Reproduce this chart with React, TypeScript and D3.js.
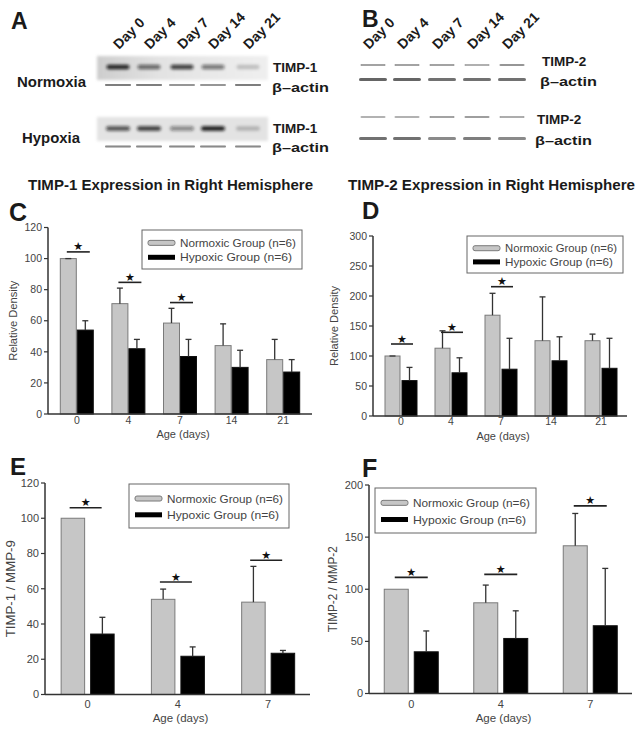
import React from "react";
import * as d3 from "d3";

// ---------- data ----------
const days5 = ["0", "4", "7", "14", "21"];
const days3 = ["0", "4", "7"];
const blotDays = ["Day 0", "Day 4", "Day 7", "Day 14", "Day 21"];

// Panel C: TIMP-1 expression
const timp1Norm = [100, 71, 58.5, 44, 35];
const timp1NormErr = [0, 10, 9.5, 14, 13];
const timp1Hyp = [54, 42, 37, 30, 27];
const timp1HypErr = [6, 6, 11, 11, 8];
const timp1Sig = [104.3, 84.7, 71.7];

// Panel D: TIMP-2 expression
const timp2Norm = [100, 113, 168, 125.5, 125.5];
const timp2NormErr = [0, 29, 36.5, 73, 11];
const timp2Hyp = [59, 72, 78, 92, 79.5];
const timp2HypErr = [22, 25, 51.5, 40, 50];
const timp2Sig = [120, 139.5, 215.5];

// Panel E: TIMP-1 / MMP-9
const ratio1Norm = [100, 54, 52.4];
const ratio1NormErr = [null, 5.8, 20.3];
const ratio1Hyp = [34.3, 21.7, 23.4];
const ratio1HypErr = [9.5, 5.3, 1.6];
const ratio1Sig = [106, 63.8, 76.2];

// Panel F: TIMP-2 / MMP-2
const ratio2Norm = [100, 87, 141.7];
const ratio2NormErr = [null, 17, 31];
const ratio2Hyp = [40, 52.8, 65];
const ratio2HypErr = [20, 26.5, 55];
const ratio2Sig = [111.4, 114.3, 180];

const ticksC = [0, 20, 40, 60, 80, 100, 120];
const ticksD = [0, 50, 100, 150, 200, 250, 300];
const ticksE = [0, 20, 40, 60, 80, 100, 120];
const ticksF = [0, 50, 100, 150, 200];

// Blot band intensities (0..1)
const timp1NormBands = [0.9, 0.6, 0.8, 0.55, 0.2];
const actinANorm = [0.55, 0.55, 0.45, 0.45, 0.55];
const timp1HypBands = [0.7, 0.8, 0.45, 0.95, 0.22];
const actinAHyp = [0.5, 0.5, 0.5, 0.5, 0.5];
const timp2NormBands = [0.4, 0.4, 0.4, 0.35, 0.45];
const actinBNorm = [0.65, 0.65, 0.6, 0.6, 0.6];
const timp2HypBands = [0.3, 0.3, 0.4, 0.38, 0.36];
const actinBHyp = [0.6, 0.6, 0.5, 0.55, 0.5];

const FONT = "'Liberation Sans', Arial, Helvetica, sans-serif";
const GRAY = "#c6c6c6";
const GRAY_STROKE = "#7a7a7a";
const AXIS = "#333";
const TXT = "#444";

type PanelProps = {
  cats: string[];
  norm: number[];
  normErr: (number | null)[];
  hyp: number[];
  hypErr: (number | null)[];
  sig: number[];
  yMax: number;
  ticks: number[];
  xRange: [number, number];
  axisX: [number, number];
  yRange: [number, number];
  barW: number;
  gap: number;
  legend: { x: number; y: number; w: number; h: number };
  yLabel: string;
  yLabelX: number;
  yLabelLen: number;
  yLabelSize: number;
  tickSize: number;
  xTickY: number;
  xTitleY: number;
  sigW: number;
  sigDx: number;
};

function BarPanel(p: PanelProps) {
  const x = d3.scaleBand().domain(p.cats).range(p.xRange).paddingInner(0).paddingOuter(0);
  const y = d3.scaleLinear().domain([0, p.yMax]).range(p.yRange);
  const cx = (c: string) => (x(c) as number) + x.bandwidth() / 2;
  const y0 = y(0);
  const ax0 = p.axisX[0];
  const capW = 3;
  const xTitleX = (p.axisX[0] + p.axisX[1]) / 2 + 3;
  const bars: any[] = [];
  p.cats.forEach((c, i) => {
    const c0 = cx(c);
    const nx = c0 - p.gap / 2 - p.barW;
    const hx = c0 + p.gap / 2;
    bars.push(
      <g key={"b" + c}>
        <rect x={nx} y={y(p.norm[i])} width={p.barW} height={y0 - y(p.norm[i])} fill={GRAY} stroke={GRAY_STROKE} strokeWidth={1} />
        <rect x={hx} y={y(p.hyp[i])} width={p.barW} height={y0 - y(p.hyp[i])} fill="#000" stroke="#111" strokeWidth={1} />
        {p.normErr[i] !== null && (
          <g stroke="#333" strokeWidth={1.3}>
            <line x1={nx + p.barW / 2} x2={nx + p.barW / 2} y1={y(p.norm[i])} y2={y(p.norm[i] + (p.normErr[i] as number))} />
            <line x1={nx + p.barW / 2 - capW} x2={nx + p.barW / 2 + capW} y1={y(p.norm[i] + (p.normErr[i] as number))} y2={y(p.norm[i] + (p.normErr[i] as number))} />
          </g>
        )}
        {p.hypErr[i] !== null && (
          <g stroke="#333" strokeWidth={1.3}>
            <line x1={hx + p.barW / 2} x2={hx + p.barW / 2} y1={y(p.hyp[i])} y2={y(p.hyp[i] + (p.hypErr[i] as number))} />
            <line x1={hx + p.barW / 2 - capW} x2={hx + p.barW / 2 + capW} y1={y(p.hyp[i] + (p.hypErr[i] as number))} y2={y(p.hyp[i] + (p.hypErr[i] as number))} />
          </g>
        )}
      </g>
    );
  });
  const sigs = p.sig.map((v, i) => {
    const c0 = cx(p.cats[i]) + p.sigDx;
    return (
      <g key={"s" + i}>
        <line x1={c0 - p.sigW / 2} x2={c0 + p.sigW / 2} y1={y(v)} y2={y(v)} stroke="#222" strokeWidth={1.6} />
        <text x={c0} y={y(v) - 1.5} textAnchor="middle" fontSize={11} fontFamily="'DejaVu Sans', sans-serif" fill="#111">★</text>
      </g>
    );
  });
  const L = p.legend;
  return (
    <g fontFamily={FONT}>
      {bars}
      {sigs}
      {/* axes */}
      <line x1={ax0} x2={ax0} y1={y(p.yMax)} y2={y0} stroke={AXIS} strokeWidth={1.5} />
      <line x1={ax0} x2={p.axisX[1]} y1={y0} y2={y0} stroke={AXIS} strokeWidth={1.5} />
      {p.ticks.map((t) => (
        <g key={"t" + t}>
          <line x1={ax0 - 4} x2={ax0} y1={y(t)} y2={y(t)} stroke={AXIS} strokeWidth={1.2} />
          <text x={ax0 - 6} y={y(t)} dy="0.35em" textAnchor="end" fontSize={p.tickSize} fill={TXT}>{t}</text>
        </g>
      ))}
      {p.cats.map((c) => (
        <text key={"x" + c} x={cx(c)} y={p.xTickY} textAnchor="middle" fontSize={p.tickSize} fill={TXT}>{c}</text>
      ))}
      <text x={xTitleX} y={p.xTitleY} textAnchor="middle" fontSize={p.tickSize + 0.5} fill={TXT}>Age (days)</text>
      <text
        transform={`translate(${p.yLabelX},${(p.yRange[0] + p.yRange[1]) / 2}) rotate(-90)`}
        textAnchor="middle"
        fontSize={p.yLabelSize}
        fill={TXT}
        textLength={p.yLabelLen}
        lengthAdjust="spacingAndGlyphs"
      >{p.yLabel}</text>
      {/* legend */}
      <rect x={L.x} y={L.y} width={L.w} height={L.h} fill="#fff" stroke="#666" strokeWidth={1} />
      <rect x={L.x + 6} y={L.y + L.h * 0.33 - 2.5} width={27} height={5} rx={2} fill={GRAY} stroke={GRAY_STROKE} strokeWidth={1} />
      <rect x={L.x + 6} y={L.y + L.h * 0.7 - 2.5} width={27} height={5} fill="#000" />
      <text x={L.x + 38} y={L.y + L.h * 0.33} dy="0.35em" fontSize={11.5} fill={TXT} textLength={L.w - 44} lengthAdjust="spacingAndGlyphs">Normoxic Group (n=6)</text>
      <text x={L.x + 38} y={L.y + L.h * 0.7} dy="0.35em" fontSize={11.5} fill={TXT} textLength={L.w - 48} lengthAdjust="spacingAndGlyphs">Hypoxic Group (n=6)</text>
    </g>
  );
}

type BlotRowProps = {
  lanes: number[];
  bands: number[];
  y: number;
  w: number;
  h: number;
  blur: string;
};
function BandRow({ lanes, bands, y, w, h, blur }: BlotRowProps) {
  return (
    <g filter={`url(#${blur})`}>
      {lanes.map((lx, i) => (
        <rect key={i} x={lx - w / 2} y={y - h / 2} width={w} height={h} rx={h / 2} fill="#111" opacity={bands[i]} />
      ))}
    </g>
  );
}

function Blots() {
  const laneA = d3.scaleOrdinal<string, number>().domain(blotDays).range([118, 149, 182, 213, 248]);
  const laneB = d3.scaleOrdinal<string, number>().domain(blotDays).range([373, 407, 442, 477, 512]);
  const la = blotDays.map((d) => laneA(d));
  const lb = blotDays.map((d) => laneB(d));
  return (
    <g fontFamily={FONT} fontWeight="bold" fill="#1a1a1a">
      <defs>
        <filter id="blurBig" x="-50%" y="-200%" width="200%" height="500%">
          <feGaussianBlur stdDeviation="1.5" />
        </filter>
        <filter id="blurSmall" x="-50%" y="-200%" width="200%" height="500%">
          <feGaussianBlur stdDeviation="0.7" />
        </filter>
        <filter id="blurBg" x="-10%" y="-30%" width="120%" height="160%">
          <feGaussianBlur stdDeviation="1.5" />
        </filter>
        <linearGradient id="bgA" x1="0" x2="1" y1="0" y2="0">
          <stop offset="0" stopColor="#cdcdcd" />
          <stop offset="0.35" stopColor="#e2e2e2" />
          <stop offset="1" stopColor="#efefef" />
        </linearGradient>
      </defs>
      {/* Panel A */}
      <text x={11} y={29} fontSize={23}>A</text>
      {blotDays.map((d, i) => (
        <text key={"da" + d} transform={`translate(${la[i] + 1},${50}) rotate(-45)`} fontSize={14}>{d}</text>
      ))}
      <rect x={97} y={56} width={171} height={24} fill="url(#bgA)" filter="url(#blurBg)" />
      <BandRow lanes={la} bands={timp1NormBands} y={67} w={23} h={4.5} blur="blurBig" />
      <BandRow lanes={la} bands={actinANorm} y={85} w={26} h={1.8} blur="blurSmall" />
      <rect x={97} y={117} width={171} height={24} fill="#e3e3e3" filter="url(#blurBg)" />
      <BandRow lanes={la} bands={timp1HypBands} y={128.5} w={24} h={4.5} blur="blurBig" />
      <BandRow lanes={la} bands={actinAHyp} y={146.5} w={26} h={1.8} blur="blurSmall" />
      <text x={17} y={87} fontSize={14} textLength={69} lengthAdjust="spacingAndGlyphs">Normoxia</text>
      <text x={22} y={143} fontSize={14} textLength={58} lengthAdjust="spacingAndGlyphs">Hypoxia</text>
      <text x={273} y={72} fontSize={13.5}>TIMP-1</text>
      <text x={272} y={92} fontSize={13.5} textLength={57} lengthAdjust="spacingAndGlyphs">β–actin</text>
      <text x={273} y={133} fontSize={13.5}>TIMP-1</text>
      <text x={272} y={152} fontSize={13.5} textLength={57} lengthAdjust="spacingAndGlyphs">β–actin</text>
      {/* Panel B */}
      <text x={362} y={27} fontSize={23}>B</text>
      {blotDays.map((d, i) => (
        <text key={"db" + d} transform={`translate(${lb[i] - 4},${50}) rotate(-45)`} fontSize={14}>{d}</text>
      ))}
      <BandRow lanes={lb} bands={timp2NormBands} y={65} w={25} h={2.2} blur="blurSmall" />
      <BandRow lanes={lb} bands={actinBNorm} y={79.5} w={28} h={3.2} blur="blurSmall" />
      <BandRow lanes={lb} bands={timp2HypBands} y={117} w={25} h={2} blur="blurSmall" />
      <BandRow lanes={lb} bands={actinBHyp} y={138.5} w={28} h={3} blur="blurSmall" />
      <text x={542} y={66} fontSize={13.5}>TIMP-2</text>
      <text x={540} y={86} fontSize={13.5} textLength={57} lengthAdjust="spacingAndGlyphs">β–actin</text>
      <text x={537} y={124} fontSize={13.5}>TIMP-2</text>
      <text x={535} y={145} fontSize={13.5} textLength={57} lengthAdjust="spacingAndGlyphs">β–actin</text>
    </g>
  );
}

export default function App() {
  return (
    <svg
      width={640}
      height={734}
      viewBox="0 0 640 734"
      style={{ position: "absolute", left: 0, top: 0, background: "#fff" }}
    >
      <rect x={0} y={0} width={640} height={734} fill="#fff" />
      <Blots />
      {/* titles */}
      <g fontFamily={FONT} fontWeight="bold" fill="#1a1a1a">
        <text x={28} y={190} fontSize={14} textLength={285} lengthAdjust="spacingAndGlyphs">TIMP-1 Expression in Right Hemisphere</text>
        <text x={348} y={190} fontSize={14} textLength={287} lengthAdjust="spacingAndGlyphs">TIMP-2 Expression in Right Hemisphere</text>
        <text x={9} y={221} fontSize={25}>C</text>
        <text x={362} y={219} fontSize={24}>D</text>
        <text x={10} y={475} fontSize={24}>E</text>
        <text x={362} y={477} fontSize={25}>F</text>
      </g>
      <BarPanel
        cats={days5} norm={timp1Norm} normErr={timp1NormErr} hyp={timp1Hyp} hypErr={timp1HypErr} sig={timp1Sig}
        yMax={120} ticks={ticksC} xRange={[51, 309]} axisX={[48, 312]} yRange={[414, 227.5]}
        barW={16} gap={1} legend={{ x: 142, y: 230, w: 160, h: 39 }}
        yLabel="Relative Density" yLabelX={17} yLabelLen={80} yLabelSize={11} tickSize={10.5}
        xTickY={424} xTitleY={438} sigW={23} sigDx={1.5}
      />
      <BarPanel
        cats={days5} norm={timp2Norm} normErr={timp2NormErr} hyp={timp2Hyp} hypErr={timp2HypErr} sig={timp2Sig}
        yMax={300} ticks={ticksD} xRange={[376, 626]} axisX={[373, 627]} yRange={[416, 236]}
        barW={15} gap={2} legend={{ x: 467, y: 236, w: 156, h: 37 }}
        yLabel="Relative Density" yLabelX={338} yLabelLen={80} yLabelSize={11} tickSize={10.5}
        xTickY={425} xTitleY={440} sigW={22} sigDx={1}
      />
      <BarPanel
        cats={days3} norm={ratio1Norm} normErr={ratio1NormErr} hyp={ratio1Hyp} hypErr={ratio1HypErr} sig={ratio1Sig}
        yMax={120} ticks={ticksE} xRange={[42.5, 313.3]} axisX={[45, 310]} yRange={[694.5, 483]}
        barW={23.5} gap={6} legend={{ x: 129, y: 484, w: 160, h: 44 }}
        yLabel="TIMP-1 / MMP-9" yLabelX={15} yLabelLen={97} yLabelSize={12} tickSize={11}
        xTickY={708} xTitleY={722} sigW={32} sigDx={-2}
      />
      <BarPanel
        cats={days3} norm={ratio2Norm} normErr={ratio2NormErr} hyp={ratio2Hyp} hypErr={ratio2HypErr} sig={ratio2Sig}
        yMax={200} ticks={ticksF} xRange={[366.5, 635]} axisX={[369, 632]} yRange={[693.5, 485]}
        barW={24} gap={6} legend={{ x: 375, y: 488, w: 161, h: 45 }}
        yLabel="TIMP-2 / MMP-2" yLabelX={337} yLabelLen={86} yLabelSize={12} tickSize={11}
        xTickY={708} xTitleY={722} sigW={33} sigDx={0}
      />
    </svg>
  );
}
